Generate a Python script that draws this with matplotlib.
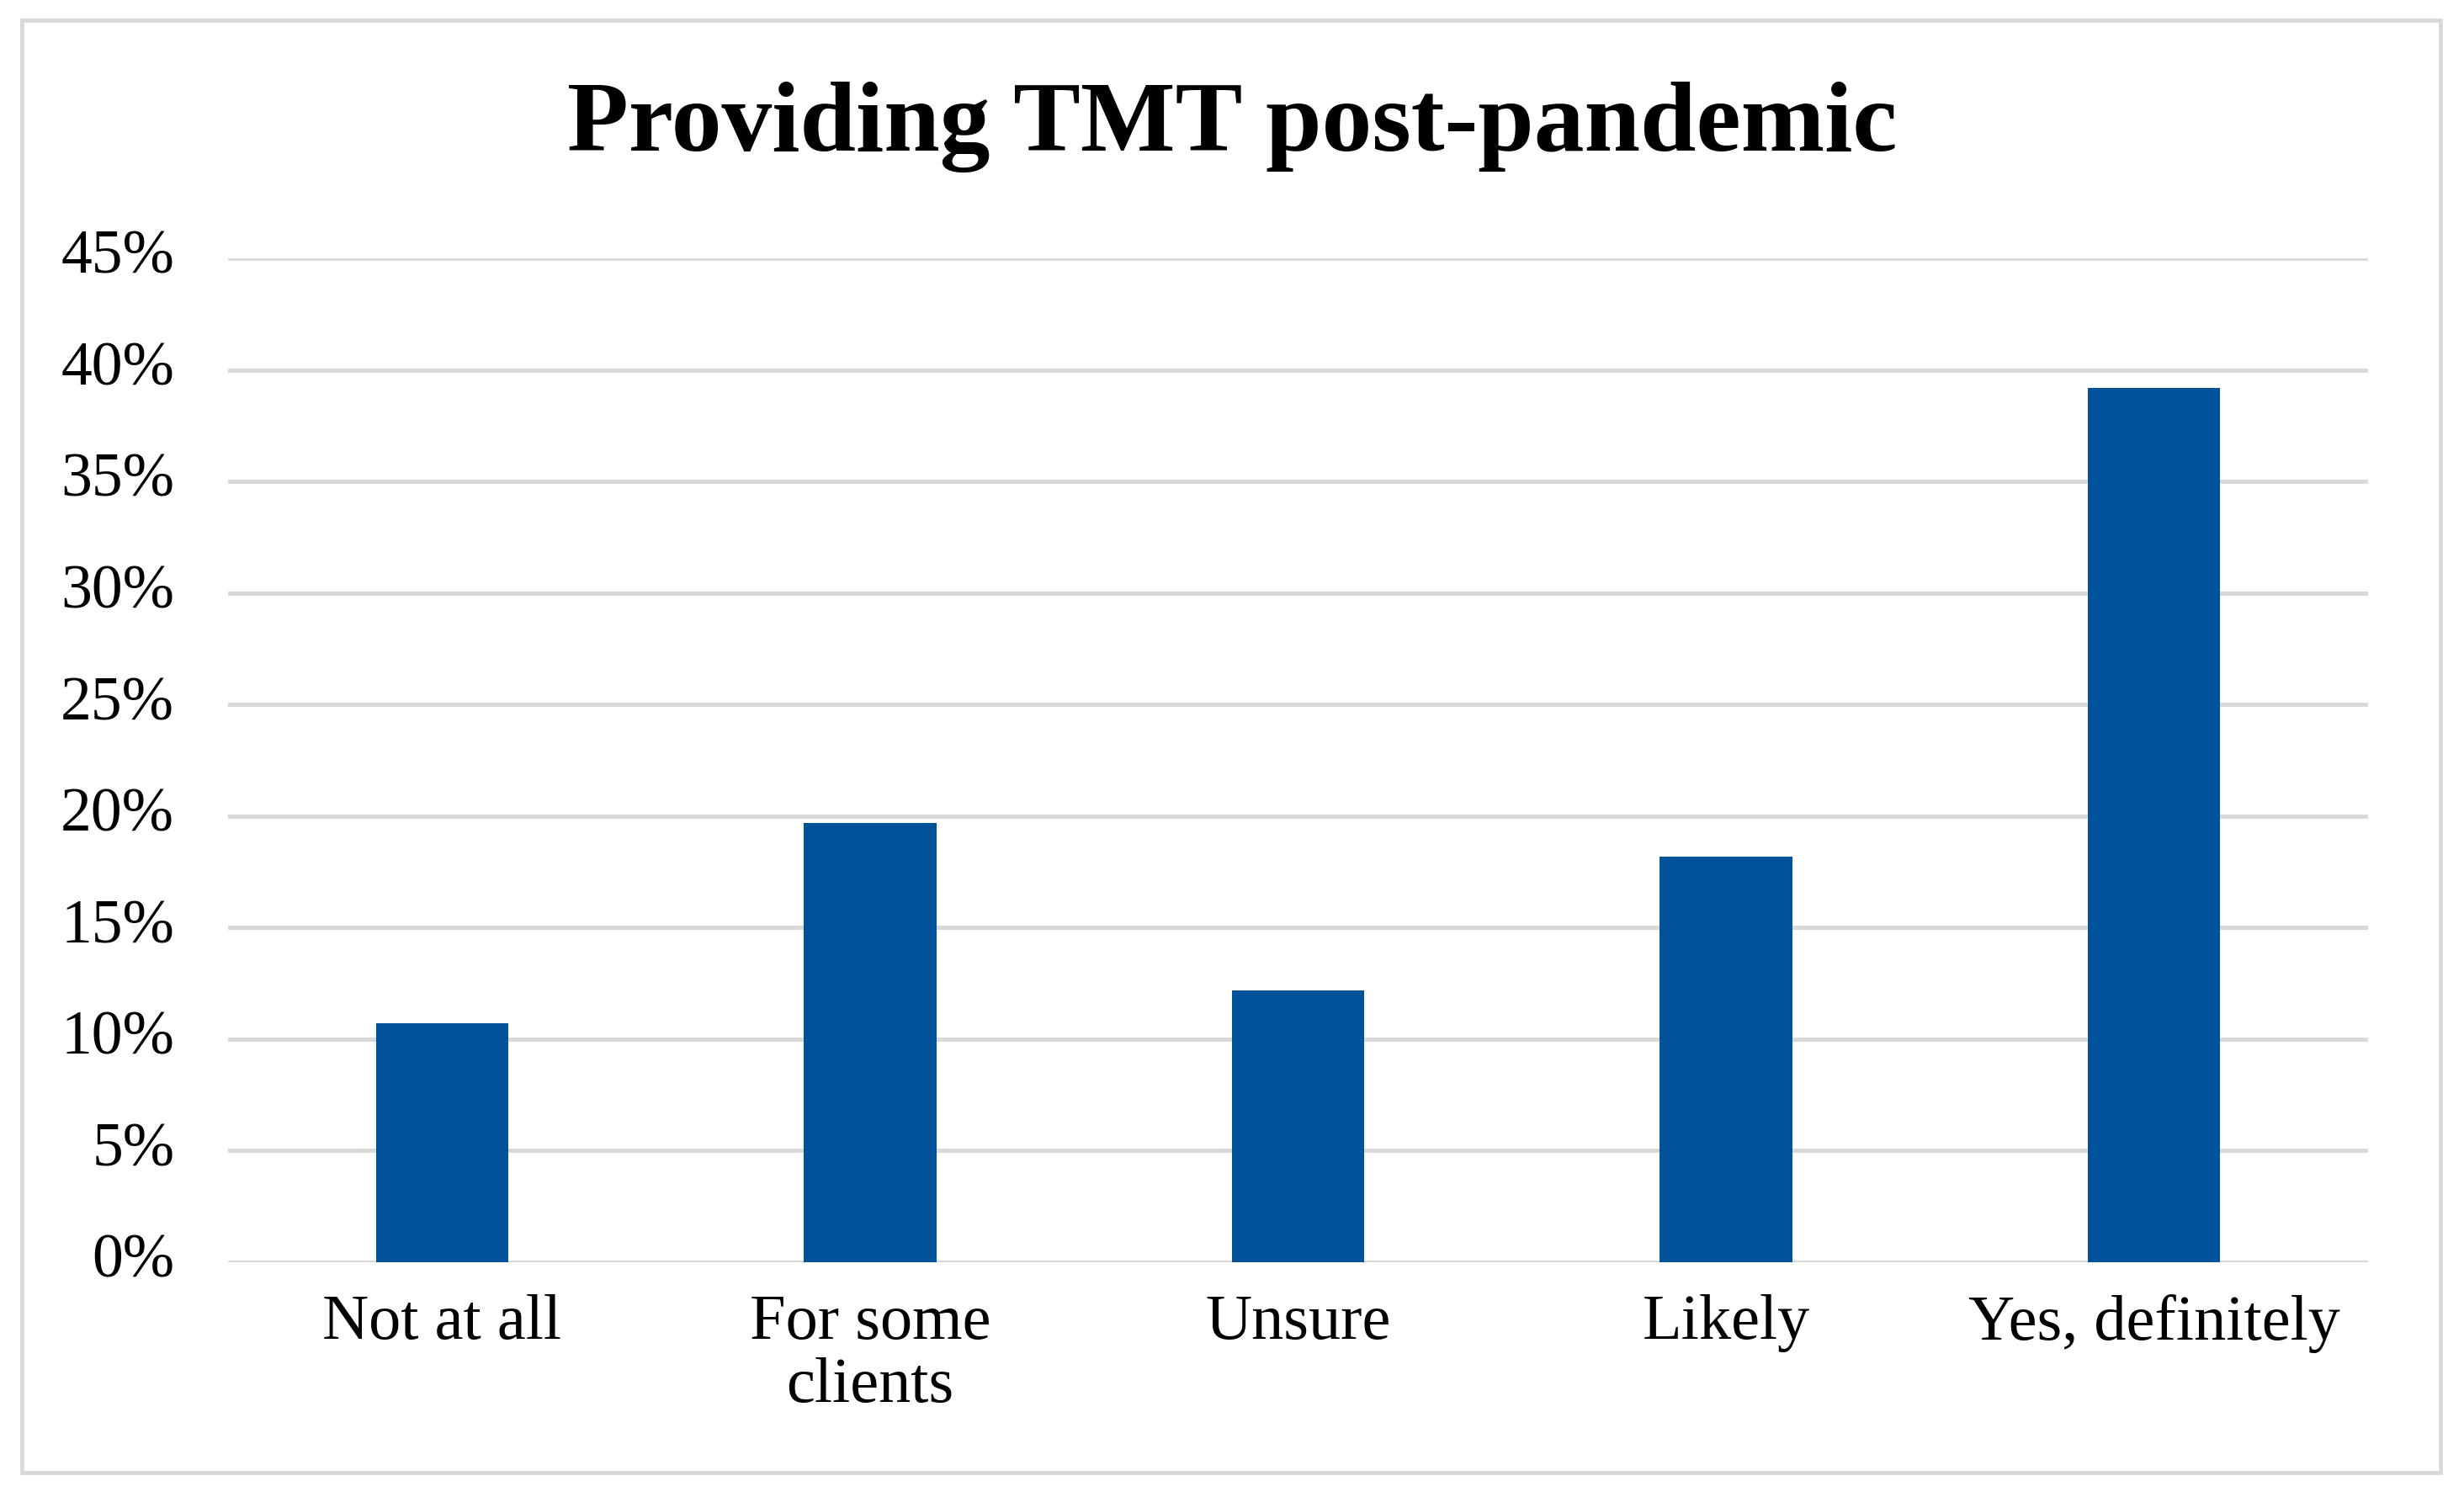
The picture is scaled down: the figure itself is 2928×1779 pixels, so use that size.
import matplotlib
matplotlib.use("Agg")
import matplotlib.pyplot as plt
from matplotlib.patches import Rectangle
from matplotlib.ticker import FuncFormatter

categories = ["Not at all", "For some\nclients", "Unsure", "Likely", "Yes, definitely"]
values = [10.7, 19.7, 12.2, 18.2, 39.2]
yticks = [0, 5, 10, 15, 20, 25, 30, 35, 40, 45]

plt.rcParams['font.family'] = ['Liberation Serif', 'DejaVu Serif']

fig = plt.figure(figsize=(29.28, 17.79), dpi=100)
fig.patch.set_facecolor('white')
ax = fig.add_axes([0.0926, 0.1568, 0.961 - 0.0926, 0.8274 - 0.1568])

x = list(range(len(categories)))
ax.bar(x, values, width=0.31, color='#00529B', zorder=3)
ax.set_xlim(-0.5, len(categories) - 0.5)
ax.set_ylim(0, 45)
ax.set_yticks(yticks)
ax.yaxis.set_major_formatter(FuncFormatter(lambda v, p: f"{int(v)}%"))
ax.set_xticks(x)
ax.set_xticklabels(categories, linespacing=1.12)
ax.grid(axis='y', color='#d9d9d9', linewidth=3.6, zorder=0)
ax.set_axisbelow(True)
for s in ax.spines.values():
    s.set_visible(False)
ax.tick_params(axis='y', length=0, pad=46, labelsize=53)
ax.tick_params(axis='x', length=0, pad=27, labelsize=55)
for lbl in ax.get_yticklabels():
    lbl.set_verticalalignment('center')

fig.text(0.5, 0.915, "Providing TMT post-pandemic", ha='center', va='center',
         fontsize=86, fontweight='bold')

border = Rectangle((26 / 2928, 1 - 1750 / 1779), (2900 - 26) / 2928, (1750 - 24) / 1779,
                   transform=fig.transFigure, fill=False, edgecolor='#d9d9d9', linewidth=3.5)
fig.patches.append(border)

fig.savefig("out.png", dpi=100, facecolor='white')
